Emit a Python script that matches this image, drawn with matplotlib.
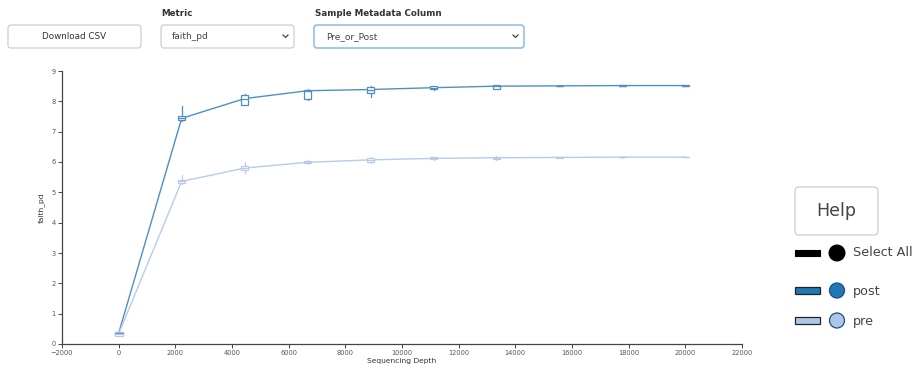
import matplotlib
matplotlib.use("Agg")
import matplotlib.pyplot as plt
from matplotlib.patches import FancyBboxPatch, Rectangle, Circle

W, H = 921, 367

# Rarefaction depths
depth = [1, 2223, 4445, 6667, 8889, 11112, 13334, 15556, 17778, 20000]

# faith_pd summary per depth, group "post"
post_median = [0.36, 7.44, 8.09, 8.35, 8.39, 8.45, 8.50, 8.51, 8.52, 8.52]
post_q1 = [0.31, 7.38, 7.89, 8.09, 8.29, 8.40, 8.42, 8.50, 8.51, 8.51]
post_q3 = [0.40, 7.52, 8.22, 8.36, 8.48, 8.49, 8.53, 8.52, 8.53, 8.53]
post_lo = [0.30, 7.36, 7.88, 8.03, 8.14, 8.39, 8.40, 8.49, 8.49, 8.50]
post_hi = [0.41, 7.85, 8.24, 8.42, 8.49, 8.50, 8.55, 8.53, 8.55, 8.53]

# faith_pd summary per depth, group "pre"
pre_median = [0.34, 5.36, 5.80, 5.99, 6.07, 6.12, 6.14, 6.15, 6.16, 6.16]
pre_q1 = [0.28, 5.30, 5.73, 5.96, 5.99, 6.09, 6.11, 6.14, 6.15, 6.15]
pre_q3 = [0.40, 5.40, 5.86, 6.02, 6.14, 6.16, 6.17, 6.16, 6.17, 6.17]
pre_lo = [0.27, 5.27, 5.63, 5.92, 5.97, 6.08, 6.07, 6.13, 6.14, 6.15]
pre_hi = [0.41, 5.58, 6.00, 6.08, 6.15, 6.17, 6.19, 6.17, 6.18, 6.17]

groups = ["post", "pre"]
line_colors = {"post": "#4f8fc3", "pre": "#b8cbe8"}
legend_fill = {"post": "#1f77b4", "pre": "#aec7e8"}

x_ticks = list(range(-2000, 22001, 2000))
y_ticks = list(range(0, 10))

plt.rcParams["font.family"] = ["DejaVu Sans"]

fig = plt.figure(figsize=(W / 100, H / 100), dpi=100)
fig.patch.set_facecolor("white")

# main plotting area (pixel box: x 62..742, y 71..344)
ax = fig.add_axes([62 / W, 1 - 344 / H, (742 - 62) / W, (344 - 71) / H])
ax.set_xlim(-2000, 22000)
ax.set_ylim(0, 9)
for s in ("top", "right"):
    ax.spines[s].set_visible(False)
for s in ("left", "bottom"):
    ax.spines[s].set_color("#444444")
    ax.spines[s].set_linewidth(0.9)
ax.set_xticks(x_ticks)
ax.set_yticks(y_ticks)
ax.tick_params(labelsize=4.8, colors="#444444", labelcolor="#555555",
               length=3, width=0.7, pad=1.5)
ax.set_xlabel("Sequencing Depth", fontsize=5.4, color="#333333", labelpad=1.5)
ax.set_ylabel("faith_pd", fontsize=5.4, color="#333333", labelpad=5)

series = {
    "post": (post_median, post_q1, post_q3, post_lo, post_hi),
    "pre": (pre_median, pre_q1, pre_q3, pre_lo, pre_hi),
}

for g in groups:
    med, q1, q3, lo, hi = series[g]
    c = line_colors[g]
    ax.plot(depth, med, color=c, lw=1.0, zorder=3)
    stats = [
        dict(med=m, q1=a, q3=b, whislo=l, whishi=h, fliers=[])
        for m, a, b, l, h in zip(med, q1, q3, lo, hi)
    ]
    ax.bxp(stats, positions=depth, widths=270, showcaps=False,
           showfliers=False, patch_artist=True, manage_ticks=False,
           boxprops=dict(facecolor="white", edgecolor=c, linewidth=0.9),
           whiskerprops=dict(color=c, linewidth=0.9),
           medianprops=dict(color=c, linewidth=0.9), zorder=4)

# overlay in pixel coordinates for the controls and legend
ov = fig.add_axes([0, 0, 1, 1], zorder=5)
ov.set_xlim(0, W)
ov.set_ylim(H, 0)
ov.axis("off")
ov.patch.set_alpha(0)


def box(x0, y0, x1, y1, edge="#c8c8c8", lw=0.8, pad=3):
    ov.add_patch(FancyBboxPatch((x0, y0), x1 - x0, y1 - y0,
                                boxstyle=f"round,pad=0,rounding_size={pad}",
                                facecolor="white", edgecolor=edge, lw=lw))


# top controls
box(8, 25, 141, 48)
ov.text(74.5, 36.5, "Download CSV", fontsize=6.3, color="#333333",
        ha="center", va="center")

ov.text(161, 14, "Metric", fontsize=6.3, color="#333333", weight="bold",
        ha="left", va="center")
box(161, 25, 294, 48)
ov.text(172, 36.5, "faith_pd", fontsize=6.5, color="#444444",
        ha="left", va="center")
ov.plot([283, 285.5, 288], [35, 37.5, 35], color="#444444", lw=0.9)

ov.text(315, 14, "Sample Metadata Column", fontsize=6.3, color="#333333",
        weight="bold", ha="left", va="center")
box(314, 25, 524, 48, edge="#80b3e6", lw=1.0)
ov.text(326, 36.5, "Pre_or_Post", fontsize=6.5, color="#444444",
        ha="left", va="center")
ov.plot([513, 515.5, 518], [35, 37.5, 35], color="#444444", lw=0.9)

# help button
box(795, 187, 878, 235, edge="#cccccc", lw=0.9, pad=4)
ov.text(836.5, 211, "Help", fontsize=12.5, color="#444444",
        ha="center", va="center")

# legend
ov.add_patch(Rectangle((795, 249.5), 25, 6.5, facecolor="black",
                       edgecolor="black", lw=0.8))
ov.add_patch(Circle((837, 253), 7.8, facecolor="black", edgecolor="black"))
ov.text(853, 253, "Select All", fontsize=9.2, color="#444444",
        ha="left", va="center")

rows = [("post", 290.5), ("pre", 320.5)]
for g, yc in rows:
    ov.add_patch(Rectangle((795, yc - 3.5), 25, 7, facecolor=legend_fill[g],
                           edgecolor="#222222", lw=0.9))
    ov.add_patch(Circle((837, yc), 7.5, facecolor=legend_fill[g],
                        edgecolor="#1a4f80", lw=0.9))
    ov.text(853, yc + 1, g, fontsize=9.2, color="#444444",
            ha="left", va="center")

fig.savefig("out.png", dpi=100, facecolor="white")
